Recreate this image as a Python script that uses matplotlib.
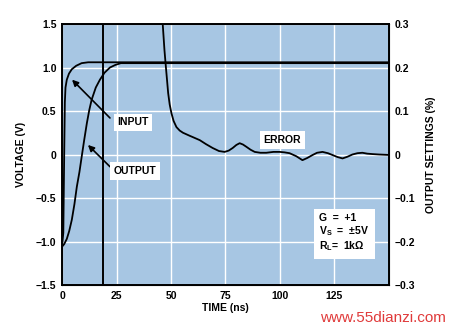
import matplotlib
matplotlib.use("Agg")
import matplotlib.pyplot as plt

plt.rcParams['font.family'] = ['Liberation Sans', 'DejaVu Sans']
plt.rcParams['font.weight'] = 'bold'
plt.rcParams['axes.labelweight'] = 'bold'

# input step (V)
input_t = [0, 0.6, 1.0, 1.3, 1.6, 2.2, 3.2, 4.5, 6.5, 9, 12, 150]
input_v = [-1.06, -0.9, 0.0, 0.6, 0.77, 0.86, 0.93, 0.98, 1.02, 1.05, 1.06, 1.06]

# output response (V)
output_t = [0, 1, 2.2, 3.3, 4.5, 5.7, 6.8, 8, 9, 10.2, 11.4, 12.5, 13.6, 15.5,
            17.4, 19.5, 22, 24.5, 27, 150]
output_v = [-1.06, -1.03, -0.97, -0.88, -0.75, -0.57, -0.37, -0.2, -0.03, 0.17,
            0.36, 0.51, 0.63, 0.77, 0.86, 0.94, 1.0, 1.03, 1.05, 1.05]

# settling error (%)
error_t = [45.5, 46.2, 47, 47.5, 48.2, 48.7, 49.4, 50.2, 51.2, 52.5, 54, 55.5,
           58.6, 60, 63.2, 66, 69.1, 72, 74.6, 76.5, 78.3, 80, 81.5, 83, 84.5,
           86.5, 88.4, 91, 93.7, 97, 99.8, 102, 104.4, 107.5, 110.3, 112.5, 115,
           117, 119.5, 122, 124, 126.5, 128.7, 131, 133.2, 135.5, 137.8, 140,
           142.4, 145.5, 150]
error_p = [0.4, 0.3, 0.24, 0.21, 0.17, 0.141, 0.115, 0.095, 0.077, 0.063, 0.055,
           0.05, 0.043, 0.04, 0.033, 0.024, 0.015, 0.008, 0.006, 0.009, 0.015,
           0.022, 0.026, 0.023, 0.018, 0.011, 0.006, 0.004, 0.004, 0.006, 0.006,
           0.005, 0.003, -0.004, -0.013, -0.008, -0.001, 0.004, 0.006, 0.003,
           -0.001, -0.006, -0.009, -0.005, 0.0, 0.003, 0.004, 0.002, 0.001, 0.0,
           -0.001]

marker_t = 18.6

x_ticks = [0, 25, 50, 75, 100, 125]
y_ticks = [-1.5, -1.0, -0.5, 0, 0.5, 1.0, 1.5]
y_labels = ['\u22121.5', '\u22121.0', '\u22120.5', '0', '0.5', '1.0', '1.5']
y2_ticks = [-0.3, -0.2, -0.1, 0, 0.1, 0.2, 0.3]
y2_labels = ['\u22120.3', '\u22120.2', '\u22120.1', '0', '0.1', '0.2', '0.3']

fig = plt.figure(figsize=(4.5, 3.27), dpi=100)
ax = fig.add_axes([0.1378, 0.1284, 0.7266, 0.7982])
ax.set_facecolor('#a7c6e3')
ax.set_xlim(0, 150)
ax.set_ylim(-1.5, 1.5)
ax.set_xticks(x_ticks)
ax.set_yticks(y_ticks)
ax.set_yticklabels(y_labels)
ax.grid(True, color='white', lw=1.0)
ax.set_axisbelow(True)
ax.tick_params(length=0, labelsize=7.5, pad=4)
for s in ax.spines.values():
    s.set_linewidth(1.4)

ax.plot(input_t, input_v, color='black', lw=1.3)
ax.plot(output_t, output_v, color='black', lw=1.3)
ax.axvline(marker_t, color='black', lw=1.4)

ax2 = ax.twinx()
ax2.set_ylim(-0.3, 0.3)
ax2.set_yticks(y2_ticks)
ax2.set_yticklabels(y2_labels)
ax2.tick_params(length=0, labelsize=7.5, pad=4)
ax2.plot(error_t, error_p, color='black', lw=1.3)

ax.set_xlabel('TIME (ns)', fontsize=7.5, labelpad=2)
ax.set_ylabel('VOLTAGE (V)', fontsize=7.5, labelpad=7)
ax2.set_ylabel('OUTPUT SETTINGS (%)', fontsize=7.5, labelpad=8)

box = dict(boxstyle='square,pad=0.35', fc='white', ec='none')
arrow = dict(arrowstyle='-|>', color='black', lw=1.2, mutation_scale=9,
             shrinkA=0, shrinkB=0)
ax2.annotate('', xy=(4.6, 0.86), xytext=(22, 0.42), xycoords=ax.transData,
             textcoords=ax.transData, arrowprops=arrow)
ax2.annotate('', xy=(11.9, 0.11), xytext=(22, -0.14), xycoords=ax.transData,
             textcoords=ax.transData, arrowprops=arrow)
ax2.text(32.6, 0.37, 'INPUT', transform=ax.transData, fontsize=7.5,
         ha='center', va='center', bbox=box)
ax2.text(33.5, -0.19, 'OUTPUT', transform=ax.transData, fontsize=7.5,
         ha='center', va='center', bbox=box)
ax2.text(101, 0.167, 'ERROR', transform=ax.transData, fontsize=7.5,
         ha='center', va='center', bbox=box)

ax2.text(0.787, 0.2, 'G  =  +1\nV$_\\mathregular{S}$  =  \u00b15V\nR$_\\mathregular{L}$=  1k\u03a9',
         transform=ax.transAxes, fontsize=7.5, ha='left', va='center',
         linespacing=1.15,
         bbox=dict(boxstyle='square,pad=0.55', fc='white', ec='none'))

fig.text(0.99, 0.027, 'www.55dianzi.com', color='#e03a3a', fontsize=11,
         fontweight='normal', ha='right', va='center')

fig.savefig('out.png', dpi=100)
